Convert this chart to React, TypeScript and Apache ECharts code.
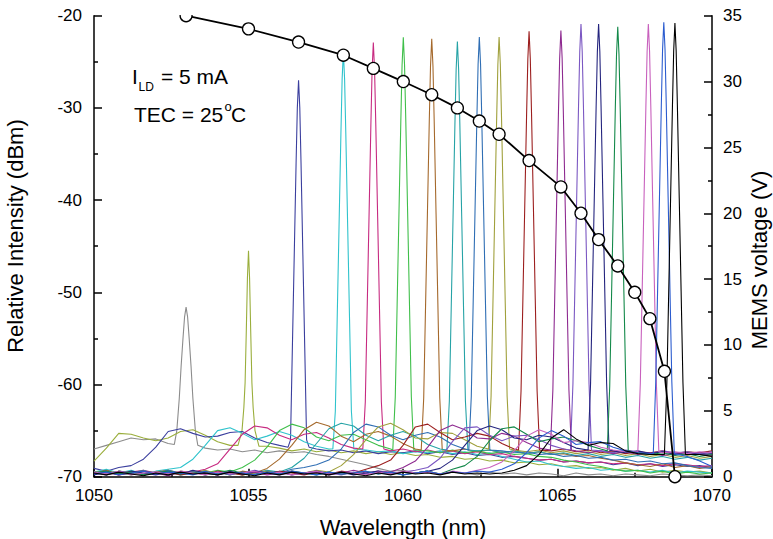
import React, { useEffect, useRef } from 'react';
import * as echarts from 'echarts';

const FONT = "'Liberation Sans', Arial, Helvetica, sans-serif";

// Axis ranges and tick steps
const WAVELENGTH_MIN = 1050;
const WAVELENGTH_MAX = 1070;
const WAVELENGTH_STEP = 5;
const DBM_MIN = -70;
const DBM_MAX = -20;
const DBM_STEP = 10;
const VOLT_MIN = 0;
const VOLT_MAX = 35;
const VOLT_STEP = 5;

// Background of each spectrum (dBm), sampled every 0.4 nm from 1050 nm to 1070 nm
const SAMPLE_START_NM = 1050;
const SAMPLE_STEP_NM = 0.4;

const FLOOR_1053 = [
  -67.0, -66.6, -66.2, -65.8, -66.0, -65.9, -66.4, -66.6, -66.5, -66.9,
  -67.1, -67.0, -67.3, -67.1, -67.4, -67.2, -67.4, -67.3, -67.6, -67.8,
  -68.1, -68.4, -68.7, -69.1, -69.4, -69.3, -69.6, -69.4, -69.7, -69.5,
  -69.6, -69.8, -69.5, -69.7, -69.6, -69.8, -69.6, -69.7, -69.9, -69.6,
  -69.8, -69.7, -69.9, -69.7, -69.8, -69.9, -69.7, -69.8, -69.9, -69.8,
  -69.9,
];
const FLOOR_1055 = [
  -68.3, -66.9, -65.3, -65.4, -65.8, -66.1, -65.8, -65.1, -64.9, -65.5,
  -66.2, -66.6, -66.6, -66.6, -66.7, -66.9, -67.2, -67.0, -67.3, -67.1,
  -67.4, -67.2, -67.5, -67.3, -67.6, -67.4, -67.7, -67.6, -67.9, -67.8,
  -68.1, -68.0, -68.3, -68.2, -68.5, -68.4, -68.7, -68.6, -68.9, -68.8,
  -69.1, -69.0, -69.3, -69.1, -69.4, -69.2, -69.5, -69.3, -69.5, -69.4,
  -69.6,
];
const FLOOR_1056 = [
  -69.1, -69.4, -69.0, -68.8, -68.1, -66.8, -65.1, -64.8, -65.3, -65.7,
  -65.6, -65.2, -65.1, -65.8, -66.3, -66.6, -66.9, -67.0, -67.0, -67.2,
  -67.1, -67.4, -67.2, -67.5, -67.3, -67.4, -67.2, -67.5, -67.3, -67.6,
  -67.4, -67.7, -67.6, -67.9, -67.8, -68.0, -68.2, -68.1, -68.4, -68.3,
  -68.5, -68.4, -68.7, -68.5, -68.8, -68.6, -68.9, -68.7, -68.9, -68.8,
  -69.0,
];
const FLOOR_1058 = [
  -69.5, -69.2, -69.6, -69.3, -69.7, -69.4, -69.2, -69.0, -68.1, -66.6,
  -65.0, -64.7, -65.3, -66.0, -65.6, -65.1, -65.5, -66.2, -66.7, -67.0,
  -67.1, -67.1, -67.1, -67.3, -67.2, -67.5, -67.3, -67.4, -67.2, -67.5,
  -67.3, -67.6, -67.4, -67.8, -68.1, -68.4, -68.3, -68.7, -68.9, -69.1,
  -69.0, -69.3, -69.2, -69.4, -69.3, -69.5, -69.3, -69.6, -69.4, -69.5,
  -69.6,
];
const FLOOR_1059 = [
  -69.7, -69.4, -69.8, -69.5, -69.3, -69.6, -69.4, -69.7, -69.5, -69.2,
  -68.6, -67.0, -65.4, -64.5, -64.7, -65.5, -66.0, -65.4, -65.2, -65.8,
  -66.5, -66.9, -67.0, -67.1, -67.2, -67.0, -67.3, -67.1, -67.4, -67.2,
  -67.5, -67.3, -67.6, -67.5, -67.8, -68.0, -68.2, -68.1, -68.4, -68.3,
  -68.5, -68.4, -68.6, -68.5, -68.7, -68.6, -68.8, -68.6, -68.7, -68.9,
  -68.8,
];
const FLOOR_1060 = [
  -69.4, -69.7, -69.5, -69.8, -69.4, -69.6, -69.3, -69.7, -69.5, -69.6,
  -69.3, -69.5, -69.0, -68.2, -66.8, -65.0, -64.3, -64.7, -65.7, -66.1,
  -65.5, -65.4, -66.0, -66.6, -67.0, -67.1, -67.1, -67.2, -67.4, -67.1,
  -67.4, -67.2, -67.5, -67.3, -67.6, -67.5, -67.8, -67.9, -68.2, -68.4,
  -68.7, -68.9, -69.2, -69.4, -69.3, -69.6, -69.4, -69.7, -69.5, -69.7,
  -69.6,
];
const FLOOR_1061 = [
  -69.6, -69.3, -69.7, -69.4, -69.8, -69.5, -69.3, -69.6, -69.4, -69.7,
  -69.5, -69.8, -69.4, -69.6, -69.1, -68.1, -66.6, -64.9, -64.1, -64.5,
  -65.6, -66.2, -65.4, -65.1, -65.6, -66.4, -67.0, -67.1, -67.1, -67.2,
  -67.0, -67.3, -67.1, -67.4, -67.2, -67.5, -67.3, -67.6, -67.5, -67.8,
  -67.7, -68.0, -68.2, -68.5, -68.7, -68.9, -68.6, -69.0, -68.8, -69.1,
  -68.9,
];
const FLOOR_1062 = [
  -69.5, -69.8, -69.4, -69.6, -69.3, -69.7, -69.5, -69.8, -69.6, -69.4,
  -69.7, -69.5, -69.8, -69.6, -69.3, -69.5, -69.0, -68.0, -66.4, -64.8,
  -64.2, -64.5, -65.5, -66.1, -65.5, -65.1, -65.6, -66.5, -67.0, -67.1,
  -67.1, -67.2, -67.1, -67.4, -67.2, -67.5, -67.3, -67.6, -67.4, -67.7,
  -67.5, -67.8, -67.6, -67.9, -67.7, -68.0, -67.8, -68.1, -67.9, -68.2,
  -68.0,
];
const FLOOR_1062B = [
  -69.6, -69.4, -69.7, -69.5, -69.8, -69.6, -69.3, -69.6, -69.4, -69.7,
  -69.5, -69.8, -69.5, -69.7, -69.4, -69.6, -69.2, -69.0, -68.7, -68.2,
  -67.0, -65.2, -64.3, -64.6, -65.5, -66.0, -65.5, -65.2, -65.7, -66.5,
  -67.0, -67.1, -67.1, -67.2, -67.4, -67.3, -67.6, -67.5, -67.8, -67.7,
  -68.0, -67.9, -68.2, -68.1, -68.4, -68.3, -68.6, -68.5, -68.8, -69.0,
  -69.1,
];
const FLOOR_1063 = [
  -69.5, -69.7, -69.4, -69.6, -69.8, -69.5, -69.7, -69.4, -69.6, -69.3,
  -69.7, -69.5, -69.8, -69.6, -69.4, -69.7, -69.5, -69.6, -69.3, -69.5,
  -68.8, -67.6, -66.0, -64.6, -64.2, -64.9, -65.8, -65.9, -65.2, -65.3,
  -66.0, -66.7, -67.0, -67.0, -67.1, -67.3, -67.1, -67.4, -67.2, -67.5,
  -67.3, -67.6, -67.4, -67.7, -67.5, -67.8, -67.6, -67.9, -67.7, -68.0,
  -67.8,
];
const FLOOR_1064 = [
  -69.7, -69.5, -69.8, -69.6, -69.4, -69.7, -69.5, -69.8, -69.6, -69.7,
  -69.4, -69.6, -69.8, -69.5, -69.7, -69.4, -69.6, -69.8, -69.5, -69.7,
  -69.4, -69.6, -69.2, -68.8, -68.2, -66.6, -64.6, -64.3, -65.2, -66.0,
  -65.7, -65.3, -65.6, -66.4, -67.0, -67.1, -67.1, -67.2, -67.0, -67.3,
  -67.1, -67.4, -67.2, -67.5, -67.3, -67.4, -67.2, -67.5, -67.3, -67.4,
  -67.2,
];
const FLOOR_1065 = [
  -69.6, -69.8, -69.5, -69.7, -69.4, -69.6, -69.9, -69.5, -69.7, -69.6,
  -69.8, -69.4, -69.7, -69.5, -69.8, -69.6, -69.4, -69.7, -69.5, -69.8,
  -69.6, -69.3, -69.6, -69.4, -69.5, -69.0, -68.3, -66.8, -65.0, -64.4,
  -64.9, -65.8, -65.9, -65.3, -65.6, -66.3, -66.9, -67.1, -67.1, -67.2,
  -67.4, -67.2, -67.5, -67.3, -67.6, -67.4, -67.7, -67.5, -67.6, -67.4,
  -67.7,
];
const FLOOR_1066 = [
  -69.5, -69.7, -69.4, -69.6, -69.8, -69.5, -69.7, -69.6, -69.4, -69.8,
  -69.5, -69.7, -69.6, -69.3, -69.6, -69.8, -69.5, -69.7, -69.4, -69.6,
  -69.8, -69.5, -69.7, -69.4, -69.6, -69.5, -69.3, -69.0, -68.0, -66.2,
  -64.7, -64.6, -65.5, -66.1, -65.6, -65.5, -66.0, -66.6, -67.0, -67.1,
  -67.1, -67.2, -67.4, -67.1, -67.3, -67.5, -67.2, -67.4, -67.3, -67.5,
  -67.3,
];
const FLOOR_1066B = [
  -69.8, -69.5, -69.7, -69.4, -69.6, -69.8, -69.5, -69.7, -69.3, -69.6,
  -69.8, -69.5, -69.7, -69.4, -69.6, -69.5, -69.8, -69.6, -69.4, -69.7,
  -69.5, -69.8, -69.6, -69.4, -69.7, -69.5, -69.6, -69.4, -69.1, -68.2,
  -66.6, -65.0, -64.5, -64.9, -65.8, -66.0, -65.5, -65.7, -66.3, -66.9,
  -67.0, -67.1, -67.2, -67.4, -67.2, -67.5, -67.3, -67.6, -67.4, -67.6,
  -67.5,
];
const FLOOR_1067 = [
  -69.6, -69.4, -69.7, -69.5, -69.8, -69.6, -69.4, -69.7, -69.5, -69.8,
  -69.6, -69.3, -69.6, -69.8, -69.5, -69.7, -69.4, -69.6, -69.8, -69.5,
  -69.7, -69.6, -69.4, -69.7, -69.5, -69.8, -69.6, -69.4, -69.7, -69.2,
  -68.8, -67.8, -66.1, -64.8, -64.6, -65.4, -66.2, -65.9, -65.7, -66.1,
  -66.6, -67.0, -67.1, -67.2, -67.4, -67.6, -67.4, -67.7, -67.5, -67.8,
  -67.6,
];
const FLOOR_1068 = [
  -69.5, -69.7, -69.4, -69.8, -69.6, -69.5, -69.7, -69.4, -69.6, -69.8,
  -69.5, -69.7, -69.6, -69.4, -69.7, -69.5, -69.8, -69.6, -69.4, -69.7,
  -69.5, -69.6, -69.8, -69.5, -69.7, -69.4, -69.6, -69.5, -69.7, -69.4,
  -69.6, -69.3, -69.0, -68.4, -67.2, -65.6, -64.9, -65.4, -66.3, -66.1,
  -66.3, -66.8, -67.1, -67.3, -67.3, -67.3, -67.4, -67.3, -67.5, -67.3,
  -67.4,
];
const FLOOR_1068B = [
  -69.7, -69.5, -69.8, -69.6, -69.4, -69.7, -69.5, -69.6, -69.8, -69.4,
  -69.7, -69.5, -69.6, -69.8, -69.5, -69.7, -69.4, -69.6, -69.8, -69.5,
  -69.7, -69.6, -69.4, -69.7, -69.5, -69.8, -69.6, -69.4, -69.7, -69.5,
  -69.6, -69.4, -69.5, -69.2, -68.6, -67.4, -65.8, -65.0, -65.6, -66.5,
  -66.3, -66.2, -66.8, -67.2, -67.4, -67.5, -67.5, -67.6, -67.8, -68.3,
  -68.9,
];
const FLOOR_1069 = [
  -69.6, -69.8, -69.5, -69.7, -69.9, -69.6, -69.8, -69.5, -69.7, -69.6,
  -69.8, -69.5, -69.7, -69.9, -69.6, -69.8, -69.5, -69.7, -69.6, -69.8,
  -69.5, -69.7, -69.9, -69.6, -69.8, -69.5, -69.7, -69.6, -69.8, -69.5,
  -69.7, -69.6, -69.7, -69.6, -69.3, -68.8, -67.6, -65.8, -64.9, -65.9,
  -66.6, -66.3, -66.4, -67.2, -67.5, -67.6, -67.6, -67.6, -67.6, -67.6,
  -67.8,
];

// Lasing line of each spectrum: centre wavelength (nm), top (dBm), level at its foot (dBm)
const LINE_NM = [
  1052.98, 1055.0, 1056.62, 1058.07, 1059.04, 1060.01, 1060.93, 1061.76, 1062.47,
  1063.11, 1064.08, 1065.11, 1065.76, 1066.33, 1066.95, 1067.94, 1068.44, 1068.8,
];
const LINE_DBM = [
  -51.6, -45.5, -27.0, -23.9, -22.9, -22.35, -22.5, -22.8, -22.3,
  -22.3, -21.7, -21.6, -20.9, -20.9, -21.2, -20.9, -20.7, -20.8,
];
const LINE_FOOT_DBM = [
  -66.5, -66.6, -66.8, -67.0, -67.0, -67.1, -67.1, -67.1, -67.1,
  -67.0, -67.1, -67.1, -67.1, -67.1, -67.2, -67.3, -67.5, -67.6,
];
const LINE_COLORS = [
  '#8c8c8c', '#9aae3c', '#3b3f9e', '#2fc3cc', '#c72a80', '#3fbf4a', '#a5692c', '#26a3a6', '#2f6eb4',
  '#a0a03c', '#9c1f1f', '#8e2a90', '#7b57c2', '#24247e', '#14894a', '#c860bd', '#2b5ccf', '#000000',
];

// Shape of the strong lines: offset from the centre (nm) and depth below the top (dB)
const LINE_SHAPE_OFFSET = [-0.26, -0.2, -0.14, -0.08, -0.04, 0, 0.04, 0.08, 0.14, 0.2, 0.26];
const LINE_SHAPE_DROP = [39, 29, 19, 9, 3, 0, 3, 9, 19, 29, 39];
const LINE_FOOT_OFFSET = 0.34;

// The two weak lines are broader; listed point by point as [nm, dBm]
const WEAK_LINE_1053: [number, number][] = [
  [1052.6, -66.5], [1052.68, -65.0], [1052.76, -61.5], [1052.82, -58.0], [1052.88, -55.0],
  [1052.93, -52.7], [1052.98, -51.6], [1053.03, -52.7], [1053.08, -55.0], [1053.14, -58.0],
  [1053.2, -61.5], [1053.28, -65.0], [1053.36, -66.6],
];
const WEAK_LINE_1055: [number, number][] = [
  [1054.66, -66.6], [1054.79, -65.0], [1054.85, -62.5], [1054.89, -59.8], [1054.93, -54.0],
  [1054.965, -48.5], [1055.0, -45.5], [1055.035, -48.5], [1055.07, -54.0], [1055.11, -59.8],
  [1055.15, -62.5], [1055.21, -65.0], [1055.34, -66.7],
];

// MEMS drive voltage against the tuned wavelength
const MEMS_NM = [
  1052.98, 1055.0, 1056.62, 1058.07, 1059.04, 1060.01, 1060.93, 1061.76, 1062.47, 1063.11,
  1064.08, 1065.11, 1065.76, 1066.33, 1066.95, 1067.5, 1067.99, 1068.46, 1068.8,
];
const MEMS_V = [35, 34, 33, 32, 31, 30, 29, 28, 27, 26, 24, 22, 20, 18, 16, 14, 12, 8, 0];

const FLOORS = [
  FLOOR_1053, FLOOR_1055, FLOOR_1056, FLOOR_1058, FLOOR_1059, FLOOR_1060, FLOOR_1061, FLOOR_1062,
  FLOOR_1062B, FLOOR_1063, FLOOR_1064, FLOOR_1065, FLOOR_1066, FLOOR_1066B, FLOOR_1067, FLOOR_1068,
  FLOOR_1068B, FLOOR_1069,
];

function linePoints(i: number): [number, number][] {
  if (i === 0) return WEAK_LINE_1053;
  if (i === 1) return WEAK_LINE_1055;
  const nm = LINE_NM[i];
  const pts: [number, number][] = [[+(nm - LINE_FOOT_OFFSET).toFixed(3), LINE_FOOT_DBM[i]]];
  LINE_SHAPE_OFFSET.forEach((o, k) => {
    pts.push([+(nm + o).toFixed(3), +(LINE_DBM[i] - LINE_SHAPE_DROP[k]).toFixed(2)]);
  });
  pts.push([+(nm + LINE_FOOT_OFFSET).toFixed(3), LINE_FOOT_DBM[i]]);
  return pts;
}

function spectrum(i: number): [number, number][] {
  const line = linePoints(i);
  const lo = line[0][0];
  const hi = line[line.length - 1][0];
  const floor: [number, number][] = FLOORS[i]
    .map((v, k) => [+(SAMPLE_START_NM + k * SAMPLE_STEP_NM).toFixed(2), v] as [number, number])
    .filter(([x]) => x < lo - 0.02 || x > hi + 0.02);
  return [...floor, ...line].sort((a, b) => a[0] - b[0]);
}

const axisLineStyle = { color: '#000', width: 1.5 };
const labelStyle = {
  color: '#000',
  fontSize: 17,
  fontFamily: FONT,
  formatter: (v: number) => String(v),
};

function textEl(x: number, y: number, text: string, size: number, align = 'left', rotation = 0) {
  return {
    type: 'text',
    x,
    y,
    rotation,
    z: 120,
    silent: true,
    style: {
      text,
      fontSize: size,
      fontFamily: FONT,
      fill: '#000',
      align,
      verticalAlign: 'middle',
      textAlign: align,
      textVerticalAlign: 'middle',
    },
  };
}

function buildOption() {
  const spectra = LINE_NM.map((_, i) => ({
    type: 'line',
    data: spectrum(i),
    showSymbol: false,
    symbol: 'none',
    silent: true,
    z: 2,
    lineStyle: { color: LINE_COLORS[i], width: 1.1 },
    itemStyle: { color: LINE_COLORS[i] },
  }));

  const mems = {
    type: 'line',
    yAxisIndex: 1,
    data: MEMS_NM.map((x, i) => [x, MEMS_V[i]]),
    symbol: 'circle',
    symbolSize: 12,
    showSymbol: true,
    showAllSymbol: true,
    silent: true,
    z: 5,
    lineStyle: { color: '#000', width: 1.8 },
    itemStyle: { color: '#fff', borderColor: '#000', borderWidth: 1.3 },
  };

  return {
    animation: false,
    backgroundColor: '#fff',
    grid: { left: 94, right: 61, top: 15.7, bottom: 62.3, containLabel: false },
    xAxis: {
      type: 'value',
      min: WAVELENGTH_MIN,
      max: WAVELENGTH_MAX,
      interval: WAVELENGTH_STEP,
      axisLine: { show: true, onZero: false, lineStyle: axisLineStyle },
      axisTick: { show: true, inside: true, length: 8, lineStyle: axisLineStyle },
      minorTick: { show: true, splitNumber: 2, length: 4, lineStyle: axisLineStyle },
      splitLine: { show: false },
      axisLabel: { ...labelStyle, margin: 10 },
    },
    yAxis: [
      {
        type: 'value',
        position: 'left',
        min: DBM_MIN,
        max: DBM_MAX,
        interval: DBM_STEP,
        axisLine: { show: true, onZero: false, lineStyle: axisLineStyle },
        axisTick: { show: true, inside: true, length: 8, lineStyle: axisLineStyle },
        minorTick: { show: true, splitNumber: 2, length: 4, lineStyle: axisLineStyle },
        splitLine: { show: false },
        axisLabel: { ...labelStyle, margin: 12 },
      },
      {
        type: 'value',
        position: 'right',
        min: VOLT_MIN,
        max: VOLT_MAX,
        interval: VOLT_STEP,
        axisLine: { show: true, onZero: false, lineStyle: axisLineStyle },
        axisTick: { show: true, inside: true, length: 8, lineStyle: axisLineStyle },
        minorTick: { show: true, splitNumber: 2, length: 4, lineStyle: axisLineStyle },
        splitLine: { show: false },
        axisLabel: { ...labelStyle, margin: 11, padding: [0, 0, 3, 0] },
      },
    ],
    series: [...spectra, mems],
    graphic: [
      // keeps the plot clipped at its top edge
      { type: 'rect', silent: true, z: 100, shape: { x: 95, y: 0, width: 616, height: 15 }, style: { fill: '#fff' } },
      textEl(15, 236, 'Relative Intensity (dBm)', 22, 'center', Math.PI / 2),
      textEl(759, 260, 'MEMS voltage (V)', 22, 'center', Math.PI / 2),
      textEl(403, 527, 'Wavelength (nm)', 22, 'center'),
      textEl(132, 76, 'I', 21),
      textEl(138.5, 87, 'LD', 12),
      textEl(161, 76, '= 5 mA', 21),
      textEl(134, 114, 'TEC = 25', 21),
      textEl(224.5, 106.5, 'o', 13),
      textEl(231, 114, 'C', 21),
    ],
  };
}

export default function App() {
  const ref = useRef<HTMLDivElement>(null);
  useEffect(() => {
    if (!ref.current) return;
    const chart = echarts.init(ref.current, undefined, { renderer: 'svg' });
    chart.setOption(buildOption() as any);
    return () => chart.dispose();
  }, []);
  return (
    <div
      ref={ref}
      style={{ position: 'fixed', left: 0, top: 0, width: 773, height: 539, background: '#fff' }}
    />
  );
}
